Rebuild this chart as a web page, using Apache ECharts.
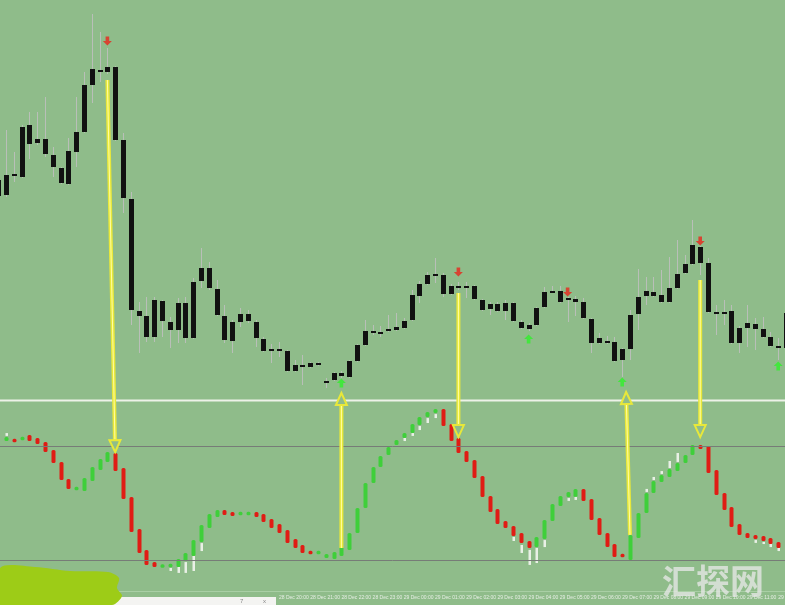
<!DOCTYPE html>
<html>
<head>
<meta charset="utf-8">
<script src="https://cdn.jsdelivr.net/npm/echarts@6/dist/echarts.min.js"></script>
<style>html,body{margin:0;padding:0;background:#8fbc8a;}#c{width:785px;height:605px;}</style>
</head>
<body>
<div id="c"></div>
<script>
// ---- price candles (15-minute bars) ----
const priceOpen = [
1.2704,1.2705,1.2725,1.2723,1.2775,1.2761,1.2761,1.2745,1.2732,1.2716,
1.2748,1.2768,1.2815,1.2830,1.2828,1.2833,1.2760,1.2701,1.2589,1.2584,
1.2563,1.2599,1.2578,1.2570,1.2597,1.2562,1.2619,1.2632,1.2611,1.2584,
1.2559,1.2578,1.2586,1.2578,1.2561,1.2549,1.2551,1.2549,1.2529,1.2533,
1.2533,1.2537,1.2519,1.2520,1.2524,1.2523,1.2539,1.2555,1.2567,1.2568,
1.2569,1.2570,1.2572,1.2580,1.2604,1.2616,1.2624,1.2625,1.2606,1.2614,
1.2612,1.2614,1.2600,1.2591,1.2596,1.2589,1.2597,1.2578,1.2575,1.2575,
1.2593,1.2608,1.2609,1.2600,1.2601,1.2598,1.2581,1.2557,1.2559,1.2558,
1.2540,1.2551,1.2586,1.2604,1.2608,1.2605,1.2598,1.2612,1.2627,1.2636,
1.2653,1.2637,1.2588,1.2586,1.2589,1.2557,1.2572,1.2576,1.2571,1.2563,
1.2554,1.2552];
const priceClose = [
1.2720,1.2725,1.2726,1.2773,1.2756,1.2757,1.2746,1.2733,1.2717,1.2749,
1.2768,1.2815,1.2831,1.2828,1.2833,1.2760,1.2702,1.2590,1.2584,1.2563,
1.2600,1.2579,1.2570,1.2597,1.2562,1.2618,1.2632,1.2612,1.2585,1.2560,
1.2578,1.2586,1.2579,1.2562,1.2549,1.2551,1.2549,1.2529,1.2535,1.2535,
1.2537,1.2535,1.2517,1.2527,1.2527,1.2539,1.2555,1.2569,1.2569,1.2566,
1.2571,1.2573,1.2579,1.2605,1.2616,1.2625,1.2626,1.2606,1.2614,1.2612,
1.2614,1.2601,1.2590,1.2596,1.2589,1.2597,1.2579,1.2572,1.2571,1.2592,
1.2608,1.2609,1.2598,1.2602,1.2598,1.2582,1.2557,1.2562,1.2558,1.2539,
1.2551,1.2585,1.2603,1.2609,1.2604,1.2598,1.2612,1.2626,1.2636,1.2655,
1.2637,1.2588,1.2586,1.2588,1.2557,1.2572,1.2577,1.2571,1.2563,1.2554,
1.2552,1.2587];
const priceLow = [
1.2702,1.2703,1.2718,1.2722,1.2741,1.2755,1.2743,1.2723,1.2716,1.2715,
1.2733,1.2767,1.2797,1.2818,1.2826,1.2759,1.2687,1.2575,1.2547,1.2558,
1.2558,1.2563,1.2552,1.2557,1.2557,1.2561,1.2612,1.2610,1.2584,1.2557,
1.2547,1.2573,1.2577,1.2553,1.2548,1.2537,1.2543,1.2528,1.2528,1.2515,
1.2532,1.2534,1.2512,1.2519,1.2522,1.2522,1.2538,1.2554,1.2565,1.2563,
1.2568,1.2569,1.2571,1.2579,1.2597,1.2615,1.2617,1.2603,1.2605,1.2610,
1.2602,1.2600,1.2589,1.2585,1.2588,1.2580,1.2578,1.2571,1.2569,1.2574,
1.2592,1.2607,1.2597,1.2578,1.2584,1.2581,1.2547,1.2556,1.2556,1.2538,
1.2523,1.2540,1.2570,1.2595,1.2603,1.2597,1.2597,1.2611,1.2626,1.2635,
1.2625,1.2587,1.2565,1.2575,1.2556,1.2547,1.2553,1.2550,1.2562,1.2553,
1.2540,1.2551];
const priceHigh = [
1.2722,1.2770,1.2748,1.2775,1.2788,1.2788,1.2803,1.2753,1.2733,1.2762,
1.2803,1.2828,1.2886,1.2868,1.2852,1.2834,1.2767,1.2708,1.2598,1.2603,
1.2603,1.2600,1.2583,1.2602,1.2603,1.2622,1.2652,1.2638,1.2620,1.2595,
1.2580,1.2592,1.2590,1.2580,1.2563,1.2556,1.2558,1.2550,1.2540,1.2545,
1.2538,1.2538,1.2522,1.2528,1.2529,1.2540,1.2556,1.2580,1.2575,1.2574,
1.2585,1.2587,1.2582,1.2610,1.2619,1.2628,1.2642,1.2627,1.2616,1.2618,
1.2618,1.2615,1.2601,1.2598,1.2598,1.2600,1.2598,1.2580,1.2577,1.2593,
1.2613,1.2614,1.2614,1.2603,1.2604,1.2602,1.2582,1.2567,1.2564,1.2563,
1.2552,1.2590,1.2631,1.2623,1.2623,1.2630,1.2643,1.2660,1.2645,1.2680,
1.2654,1.2642,1.2595,1.2600,1.2595,1.2574,1.2595,1.2582,1.2583,1.2568,
1.2562,1.2590];

// ---- oscillator (0..100, levels 80 / 20) ----
const oscOpen = [
null,82.6,83.7,83.2,85.8,84.2,82.1,77.9,71.6,62.6,
56.8,56.3,61.6,67.4,71.6,76.3,68.4,53.2,36.3,25.3,
18.9,16.3,16.3,16.3,19.5,22.1,29.5,36.8,42.6,46.3,
45.3,43.7,43.7,45.3,44.2,41.6,38.9,35.8,31.1,27.9,
24.7,23.2,21.1,20.5,22.1,25.3,34.2,47.4,60.5,68.9,
75.3,80.5,84.2,86.8,91.1,95.3,97.4,99.5,91.6,84.2,
77.4,72.6,64.2,53.7,46.8,40.5,37.9,34.2,30.0,26.8,
31.1,40.5,48.4,53.2,53.2,57.4,52.1,42.1,34.2,28.4,
23.2,20.0,31.6,44.7,55.3,61.1,63.7,66.8,71.1,75.3,
80.5,80.0,67.4,55.3,47.9,38.9,34.2,33.2,32.6,31.6,
29.5,null];
const oscClose = [
null,84.7,82.1,84.7,82.6,81.1,76.8,71.1,62.1,57.4,
58.4,63.2,68.9,73.2,76.8,66.8,52.1,34.7,23.7,17.4,
16.3,17.4,17.9,20.5,23.7,30.5,38.4,44.2,46.3,43.7,
43.2,45.3,45.3,42.6,40.0,36.8,34.2,28.9,26.3,23.7,
23.2,24.7,23.2,24.2,26.8,34.2,47.4,60.5,68.9,74.7,
79.5,83.2,86.8,91.6,95.3,97.9,99.5,90.5,82.6,76.3,
71.6,63.2,53.2,45.3,38.9,36.8,32.6,28.9,26.3,32.1,
41.1,49.5,53.7,55.8,57.4,51.1,41.1,33.2,26.8,21.6,
21.6,33.2,44.7,55.3,61.6,64.7,67.9,71.1,75.3,80.5,
78.4,65.8,54.2,46.3,37.4,33.2,31.6,31.1,30.0,28.4,
26.3,null];
const oscLevels = [80, 20];
// small white segments of the oscillator
const tailIdx = [1,22,23,24,25,26,52,53,54,55,56,66,67,68,69,70,73,74,83,84,85,86,87,97,98,99,100];
const tailTop = [86.8,15.8,16.3,18.9,22.1,28.9,84.2,86.8,90.5,94.7,96.8,32.1,27.9,25.3,26.3,30.5,52.6,53.2,57.4,63.7,66.8,72.1,76.3,30.5,29.5,28.4,26.3];
const tailBot = [85.3,14.2,13.2,13.2,14.2,24.7,82.6,85.3,88.4,92.1,94.7,30.0,23.7,17.4,18.4,26.8,51.1,51.6,55.8,62.1,65.3,68.4,71.6,29.0,28.4,26.8,24.7];

// ---- signal arrows ----
const sellIdx = [14, 59, 73, 90];
const sellPrice = [1.2859, 1.2628, 1.2608, 1.2659];
const buyIdx = [44, 68, 80, 100];
const buyPrice = [1.2517, 1.2561, 1.2518, 1.2534];

// ---- yellow connector arrows (panel 0 = price, 1 = oscillator) ----
const arrowFromIdx = [14, 44, 59, 81, 90];
const arrowFromPanel = [0, 1, 0, 1, 0];
const arrowFromVal = [1.2820, 26.3, 1.2607, 33.2, 1.2620];
const arrowToIdx = [15, 44, 59, 80.5, 90];
const arrowToPanel = [1, 0, 1, 0, 1];
const arrowToVal = [76.8, 1.2507, 84.7, 1.2508, 84.7];

// ---- time categories: 15-minute bars; hourly labels visible from bar 36 on ----
const firstBar = {day: 28, hour: 11, minute: 0};
const firstVisibleLabel = 36;
const times = [];
for (let i = 0; i < priceOpen.length; i++) {
  const m = firstBar.hour * 60 + firstBar.minute + i * 15;
  const d = firstBar.day + Math.floor(m / 1440);
  const mm = m % 1440;
  const hh = String(Math.floor(mm / 60)).padStart(2, '0');
  const mi = String(mm % 60).padStart(2, '0');
  times.push(d + ' Dec ' + hh + ':' + mi);
}

const BG = '#8fbc8a';
const chart = echarts.init(document.getElementById('c'), null, {renderer: 'canvas'});

const candleData = priceOpen.map((o, i) => [i, o, priceClose[i], priceLow[i], priceHigh[i]]);
const oscData = oscOpen.map((o, i) => o == null ? [i, null, null] : [i, o, oscClose[i]]);
const tailData = tailIdx.map((ix, k) => [ix, tailTop[k], tailBot[k]]);

const N = priceOpen.length;
const step = 7.8;
const gridLeft = -1.8 - step / 2;
const gridWidth = N * step;

const option = {
  backgroundColor: BG,
  animation: false,
  grid: [
    {left: gridLeft, width: gridWidth, top: 0, height: 400, containLabel: false, outerBoundsMode: 'none'},
    {left: gridLeft, width: gridWidth, top: 401, height: 190, containLabel: false, outerBoundsMode: 'none'}
  ],
  xAxis: [
    {type: 'category', gridIndex: 0, data: times, boundaryGap: true, show: false},
    {type: 'category', gridIndex: 1, data: times, boundaryGap: true,
     axisLine: {show: true, lineStyle: {color: '#a9cfa5', width: 1}},
     axisTick: {show: false}, splitLine: {show: false},
     axisLabel: {interval: function (idx) { return idx >= firstVisibleLabel && idx % 4 === 0; },
                 align: 'left', margin: 4, color: '#e6eee4', fontSize: 5,
                 fontFamily: 'Liberation Sans', hideOverlap: false}}
  ],
  yAxis: [
    {type: 'value', gridIndex: 0, min: 1.2500, max: 1.2900, show: false},
    {type: 'value', gridIndex: 1, min: 3.68, max: 103.68, show: false}
  ],
  series: [
    {
      type: 'custom', name: 'price', xAxisIndex: 0, yAxisIndex: 0,
      data: candleData, encode: {x: 0, y: [1, 2, 3, 4]}, clip: false, z: 3,
      renderItem: function (params, api) {
        const i = api.value(0);
        const o = api.coord([i, api.value(1)]);
        const c = api.coord([i, api.value(2)]);
        const l = api.coord([i, api.value(3)]);
        const h = api.coord([i, api.value(4)]);
        const cx = Math.round(o[0]);
        const w = 5;
        const top = Math.min(o[1], c[1]);
        const bot = Math.max(o[1], c[1]);
        const bh = Math.max(bot - top, 2);
        return {type: 'group', children: [
          {type: 'line', shape: {x1: cx + 0.5, y1: h[1], x2: cx + 0.5, y2: l[1]},
           style: {stroke: '#b9bfb8', lineWidth: 1}},
          {type: 'rect', shape: {x: cx - 2, y: top, width: w, height: bh},
           style: {fill: '#111111'}}
        ]};
      }
    },
    {
      type: 'custom', name: 'oscillator', xAxisIndex: 1, yAxisIndex: 1,
      data: oscData, encode: {x: 0, y: [1, 2]}, clip: false, z: 3,
      renderItem: function (params, api) {
        const i = api.value(0);
        const ov = api.value(1), cv = api.value(2);
        if (ov == null || isNaN(ov)) return null;
        const o = api.coord([i, ov]);
        const c = api.coord([i, cv]);
        const cx = Math.round(o[0]);
        let top = Math.min(o[1], c[1]);
        let bh = Math.abs(o[1] - c[1]);
        if (bh < 3.5) { top -= (3.5 - bh) / 2; bh = 3.5; }
        const color = cv < ov ? '#e01c14' : '#3fcf3a';
        return {type: 'rect', shape: {x: cx - 1.5, y: top, width: 4, height: bh, r: 1.5},
                style: {fill: color}};
      },
      markLine: {
        silent: true, symbol: ['none', 'none'], label: {show: false},
        lineStyle: {color: '#777c77', width: 1, type: 'solid'},
        data: oscLevels.map(v => ({yAxis: v}))
      }
    },
    {
      type: 'custom', name: 'oscTail', xAxisIndex: 1, yAxisIndex: 1,
      data: tailData, encode: {x: 0, y: [1, 2]}, clip: false, z: 3,
      renderItem: function (params, api) {
        const i = api.value(0);
        const a = api.coord([i, api.value(1)]);
        const b = api.coord([i, api.value(2)]);
        const cx = Math.round(a[0]);
        const top = Math.min(a[1], b[1]);
        const bh = Math.max(Math.abs(a[1] - b[1]), 2);
        return {type: 'rect', shape: {x: cx - 0.5, y: top, width: 2.5, height: bh},
                style: {fill: '#e9f0e6'}};
      }
    },
    {
      type: 'scatter', name: 'sell', xAxisIndex: 0, yAxisIndex: 0, z: 4,
      symbol: 'path://M3,0 L7,0 L7,5 L10,5 L5,10 L0,5 L3,5 Z', symbolSize: [9, 9],
      itemStyle: {color: '#e8261c'},
      data: sellIdx.map((ix, k) => [ix, sellPrice[k]])
    },
    {
      type: 'scatter', name: 'buy', xAxisIndex: 0, yAxisIndex: 0, z: 4,
      symbol: 'path://M5,0 L10,5 L7,5 L7,10 L3,10 L3,5 L0,5 Z', symbolSize: [9, 9],
      itemStyle: {color: '#2ff02a'},
      data: buyIdx.map((ix, k) => [ix, buyPrice[k]])
    }
  ]
};
chart.setOption(option);

function px(panel, idx, val) {
  const f = Math.floor(idx), t = idx - f;
  const a = chart.convertToPixel({gridIndex: panel}, [f, val]);
  if (t === 0) return a;
  const b = chart.convertToPixel({gridIndex: panel}, [f + 1, val]);
  return [a[0] + (b[0] - a[0]) * t, a[1]];
}

const graphics = [];
// panel separator
graphics.push({type: 'rect', z: 1, shape: {x: 0, y: 399.5, width: 785, height: 2}, style: {fill: '#edf2e8'}});

// yellow connector arrows
for (let k = 0; k < arrowFromIdx.length; k++) {
  const p0 = px(arrowFromPanel[k], arrowFromIdx[k], arrowFromVal[k]);
  const p1 = px(arrowToPanel[k], arrowToIdx[k], arrowToVal[k]);
  const dx = p1[0] - p0[0], dy = p1[1] - p0[1];
  const len = Math.hypot(dx, dy);
  const ux = dx / len, uy = dy / len, nx = -uy, ny = ux;
  const hl = 12, hw = 5.5;
  const bx = p1[0] - ux * hl, by = p1[1] - uy * hl;
  graphics.push({type: 'line', z: 20, shape: {x1: p0[0], y1: p0[1], x2: bx, y2: by},
                 style: {stroke: '#e8e83a', lineWidth: 4}});
  graphics.push({type: 'line', z: 21, shape: {x1: p0[0], y1: p0[1], x2: bx, y2: by},
                 style: {stroke: '#ffffa6', lineWidth: 1}});
  graphics.push({type: 'polygon', z: 21,
                 shape: {points: [[bx + nx * hw, by + ny * hw], [p1[0], p1[1]], [bx - nx * hw, by - ny * hw]]},
                 style: {fill: BG, stroke: '#e8e83a', lineWidth: 2}});
}

// bottom overlay: window tab strip
graphics.push({type: 'rect', z: 30, shape: {x: 100, y: 597, width: 176, height: 8}, style: {fill: '#f4f4f2'}});
graphics.push({type: 'text', z: 31, style: {text: '7', x: 240, y: 601, fontSize: 6, fill: '#888', verticalAlign: 'middle', fontFamily: 'Liberation Sans'}});
graphics.push({type: 'text', z: 31, style: {text: 'x', x: 263, y: 601, fontSize: 6, fill: '#888', verticalAlign: 'middle', fontFamily: 'Liberation Sans'}});
// lime smudge bottom-left
graphics.push({type: 'polygon', z: 32,
  shape: {smooth: 0.3, points: [[0, 568], [35, 567], [70, 571], [108, 572], [119, 578], [117, 588], [122, 596], [112, 605], [0, 605]]},
  style: {fill: '#9dcc17'}});
// watermark
graphics.push({type: 'text', z: 40, style: {text: '汇探网', x: 713, y: 581, align: 'center', verticalAlign: 'middle',
  fontSize: 34, fontWeight: 'bold', fontFamily: 'Noto Sans CJK SC', fill: 'rgba(228,230,228,0.8)'}});

chart.setOption({graphic: graphics});
</script>
</body>
</html>
